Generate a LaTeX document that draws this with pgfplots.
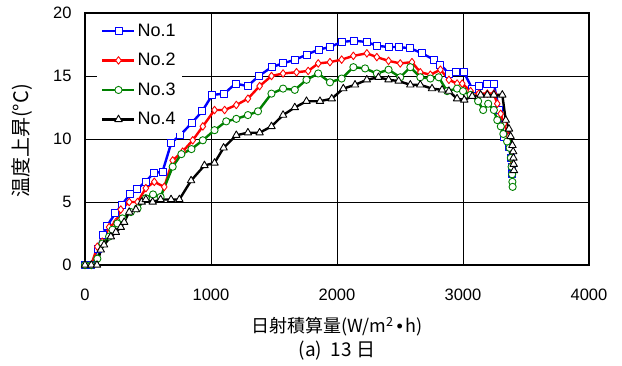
\documentclass[border=0pt]{standalone}
\usepackage{pgfplots}
\pgfplotsset{compat=1.18}
\usepackage{fontspec}
\setmainfont{Liberation Sans}
\newfontfamily\cjk{Noto Sans CJK JP}
\definecolor{dgreen}{RGB}{0,128,0}
\begin{document}
\begin{tikzpicture}
\begin{axis}[
  scale only axis, width=504pt, height=252pt,
  xmin=0, xmax=4000, ymin=0, ymax=20,
  xtick={0,1000,2000,3000,4000}, ytick={0,5,10,15,20},
  grid=major, major grid style={black, line width=0.8pt},
  axis line style={black, line width=1.2pt},
  major tick length=0pt,
  /pgf/number format/assume math mode=true,
  /pgf/number format/1000 sep={},
  ticklabel style={font=\fontsize{16.5}{16.5}\selectfont},
  xticklabel style={yshift=-20pt},
  yticklabel style={xshift=-10pt},
  legend style={at={(rel axis cs:0.024,0.985)}, anchor=north west, draw=none, fill=white,
    font=\fontsize{18}{18}\selectfont, row sep=11.5pt, inner xsep=4pt, inner ysep=5pt},
  legend cell align=left,
  legend image code/.code={\draw[mark repeat=2,mark phase=2] plot coordinates {(0pt,0pt) (16pt,0pt) (32pt,0pt)};},
  every axis plot/.append style={line join=round},
]
\addplot[color=blue, line width=2.4pt, mark=square*, mark size=3.5pt, mark options={fill=white, line width=0.9pt}] coordinates {
(0,0)(50,0)(100,1.3)(140,2.4)(175,3.1)(240,4.1)(295,4.8)(355,5.6)(410,6.0)(480,6.6)(545,7.3)(615,7.4)(685,9.7)(755,10.3)(850,11.3)(930,12.2)(1010,13.5)(1105,13.6)(1195,14.4)(1290,14.2)(1380,15.0)(1480,15.7)(1570,16.0)(1670,16.3)(1760,16.7)(1855,17.1)(1944,17.3)(2037,17.7)(2135,17.8)(2237,17.7)(2316,17.4)(2409,17.3)(2489,17.3)(2582,17.2)(2675,16.8)(2768,16.3)(2821,15.9)(2888,15.2)(2941,15.3)(3007,15.3)(3073,14.0)(3126,14.2)(3193,14.4)(3245,14.4)(3286,12.3)(3325,10.2)(3365,9.4)(3380,8.5)(3388,7.8)(3392,7.2)
};
\addlegendentry{No.1}
\addplot[color=red, line width=2.4pt, mark=diamond*, mark size=3.8pt, mark options={fill=white, line width=0.9pt}] coordinates {
(0,0)(50,0)(98,1.45)(137,1.85)(191,3.0)(245,3.4)(284,4.4)(351,5.0)(417,5.0)(483,6.1)(550,6.6)(629,6.2)(696,8.3)(775,9.0)(855,9.9)(935,11.0)(1028,12.3)(1108,12.3)(1201,12.7)(1293,13.2)(1386,14.2)(1480,15.0)(1572,15.2)(1679,15.3)(1771,15.4)(1851,16.0)(1944,16.1)(2037,16.3)(2130,16.6)(2237,16.8)(2316,16.5)(2409,16.2)(2502,16.0)(2595,16.1)(2661,15.3)(2741,15.1)(2821,15.5)(2888,14.7)(2953,14.4)(2994,14.4)(3060,13.8)(3126,13.6)(3193,13.6)(3245,13.6)(3272,12.8)(3299,12.0)(3325,11.2)(3365,10.2)(3380,9.2)(3388,8.5)(3392,8.0)
};
\addlegendentry{No.2}
\addplot[color=dgreen, line width=2.4pt, mark=*, mark size=3.6pt, mark options={fill=white, line width=0.9pt}] coordinates {
(0,0)(50,0)(98,0.5)(138,1.7)(191,2.25)(218,2.8)(257,3.3)(297,3.7)(364,4.2)(417,4.5)(483,5.3)(540,5.6)(600,5.4)(696,7.8)(765,8.8)(845,9.2)(935,9.9)(1028,10.7)(1121,11.4)(1201,11.6)(1293,11.9)(1373,12.2)(1480,13.6)(1572,14.0)(1665,13.9)(1758,14.7)(1851,15.2)(1944,14.5)(2037,14.8)(2130,15.7)(2223,15.6)(2316,15.2)(2409,15.5)(2502,14.9)(2582,15.7)(2661,14.9)(2741,14.8)(2807,14.9)(2874,13.8)(2953,14.0)(3000,13.8)(3060,13.5)(3120,13.0)(3160,12.3)(3200,12.8)(3245,12.3)(3272,11.5)(3300,11.0)(3320,10.4)(3350,9.8)(3370,9.3)(3380,8.5)(3386,7.8)(3390,7.2)(3392,6.6)(3394,6.2)
};
\addlegendentry{No.3}
\addplot[color=black, line width=2.4pt, mark=triangle*, mark size=4.3pt, mark options={fill=white, line width=0.9pt}] coordinates {
(0,0)(50,0)(95,0)(125,1.2)(151,1.6)(205,2.25)(245,2.6)(284,3.0)(311,3.4)(351,4.2)(404,4.4)(450,5.0)(483,5.2)(537,5.0)(600,5.2)(683,5.2)(749,5.2)(842,6.7)(948,7.9)(1028,8.1)(1100,9.3)(1201,10.3)(1293,10.5)(1386,10.5)(1480,11.0)(1572,11.9)(1665,12.5)(1758,13.0)(1865,13.0)(1958,13.2)(2050,14.0)(2143,14.3)(2237,14.7)(2329,14.9)(2409,14.7)(2489,14.6)(2582,14.3)(2661,14.3)(2754,14.0)(2834,13.9)(2888,13.8)(2953,13.2)(3010,13.1)(3073,13.4)(3140,13.5)(3193,13.5)(3245,13.5)(3312,13.5)(3339,11.5)(3365,10.8)(3378,10.2)(3392,9.5)(3398,9.0)(3400,8.5)(3402,8.0)(3404,7.5)
};
\addlegendentry{No.4}
\end{axis}
\node[rotate=90] at (-63pt,124pt) {\cjk\fontsize{20}{20}\selectfont 温度上昇(°C)};
\node at (252pt,-62pt) {\cjk\fontsize{18}{18}\selectfont 日射積算量(W/m\textsuperscript{2}\,{\fontspec{Liberation Sans}\textbullet}\,h)};
\node at (252pt,-86pt) {\cjk\fontsize{19}{19}\selectfont (a)\ \ 13 日};
\pgfresetboundingbox
\useasboundingbox (-85pt,-100pt) rectangle (537pt,265pt);
\end{tikzpicture}
\end{document}
